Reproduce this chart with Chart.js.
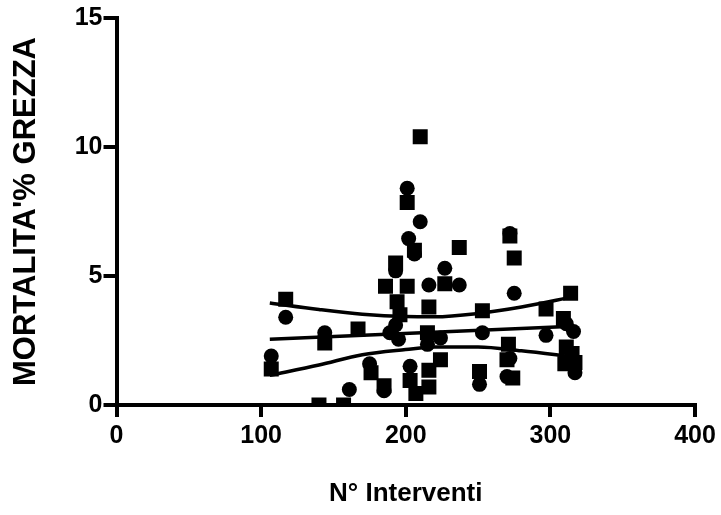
<!DOCTYPE html>
<html>
<head>
<meta charset="utf-8">
<script src="https://cdn.jsdelivr.net/npm/chart.js@4/dist/chart.umd.min.js"></script>
<style>
  html, body { margin: 0; padding: 0; background: #fff; }
  #wrap { width: 721px; height: 515px; }
</style>
</head>
<body>
<div id="wrap"><canvas id="chart" width="721" height="515"></canvas></div>
<script>
// circles
const circleX = [117, 144, 107, 161, 201, 210, 202, 206, 193, 227, 216, 237, 189, 195, 224, 215, 203, 175, 185,
                 272, 275, 311, 316, 253, 297, 272, 316, 317, 251, 270, 193];
const circleY = [3.4, 2.8, 1.9, 0.6, 8.4, 7.1, 6.45, 5.85, 5.2, 5.3, 4.65, 4.65, 2.8, 2.55, 2.6, 2.35, 1.5, 1.6, 0.55,
                 6.65, 4.33, 3.15, 2.85, 2.8, 2.7, 1.8, 1.5, 1.25, 0.8, 1.1, 3.1];

// squares
const squareX = [117, 144, 107, 140, 157, 210, 201, 206, 237, 193, 227, 186, 201, 194, 196, 216, 167, 215, 224,
                 216, 216, 203, 207, 176, 185, 272, 275, 314, 253, 297, 309, 271, 311, 315, 270, 310, 317, 251, 274];
const squareY = [4.1, 2.4, 1.4, 0, 0, 10.4, 7.85, 6.0, 6.1, 5.5, 4.7, 4.6, 4.6, 4.0, 3.5, 3.8, 2.95, 2.8, 1.75,
                 1.35, 0.7, 0.95, 0.45, 1.25, 0.75, 6.55, 5.7, 4.33, 3.65, 3.72, 3.35, 2.35, 2.25, 2.0, 1.75, 1.6, 1.65, 1.3, 1.05];

// regression line and 95% band
const fitX = [106, 316];
const fitY = [2.55, 3.05];
const bandX = [106, 140, 170, 200, 220, 250, 280, 316];
const upperY = [3.95, 3.7, 3.52, 3.43, 3.42, 3.55, 3.8, 4.2];
const lowerY = [1.15, 1.55, 1.95, 2.15, 2.25, 2.25, 2.1, 1.87];

const xTicks = [0, 100, 200, 300, 400];
const yTicks = [0, 5, 10, 15];

const pts = (xs, ys) => xs.map((x, i) => ({ x: x, y: ys[i] }));

const lineStyle = {
    type: 'line',
    borderColor: '#000',
    borderWidth: 3.5,
    pointRadius: 0,
    fill: false,
    cubicInterpolationMode: 'monotone'
};

const font = { family: '"Liberation Sans", Arial, sans-serif', weight: 'bold' };

new Chart(document.getElementById('chart'), {
    type: 'scatter',
    data: {
        datasets: [
            { label: 'circles', data: pts(circleX, circleY), pointStyle: 'circle', pointRadius: 7.5,
              backgroundColor: '#000', borderWidth: 0 },
            { label: 'squares', data: pts(squareX, squareY), pointStyle: 'rect', pointRadius: 10.6,
              backgroundColor: '#000', borderWidth: 0 },
            Object.assign({ label: 'fit', data: pts(fitX, fitY) }, lineStyle),
            Object.assign({ label: 'upper', data: pts(bandX, upperY) }, lineStyle),
            Object.assign({ label: 'lower', data: pts(bandX, lowerY) }, lineStyle)
        ]
    },
    options: {
        responsive: false,
        animation: false,
        layout: { padding: { top: 18, right: 26, left: 0, bottom: 0 } },
        plugins: { legend: { display: false }, tooltip: { enabled: false } },
        scales: {
            x: {
                type: 'linear', min: 0, max: 400,
                afterBuildTicks: s => { s.ticks = xTicks.map(v => ({ value: v })); },
                afterFit: s => { s.height = 110; },
                border: { display: true, width: 4, color: '#000' },
                grid: { drawOnChartArea: false, drawTicks: true, tickLength: 12, lineWidth: 4, color: '#000' },
                ticks: { color: '#000', padding: 4, maxRotation: 0, font: Object.assign({ size: 25 }, font) },
                title: { display: true, text: 'N° Interventi', color: '#000', padding: { top: 4, bottom: 6 },
                         font: Object.assign({ size: 26 }, font) }
            },
            y: {
                type: 'linear', min: 0, max: 15,
                afterBuildTicks: s => { s.ticks = yTicks.map(v => ({ value: v })); },
                afterFit: s => { s.width = 116.5; },
                border: { display: true, width: 4, color: '#000' },
                grid: { drawOnChartArea: false, drawTicks: true, tickLength: 13, lineWidth: 4, color: '#000' },
                ticks: { color: '#000', padding: 1, font: Object.assign({ size: 25 }, font) },
                title: { display: true, text: "MORTALITA'% GREZZA", color: '#000', padding: { top: 8, bottom: 4 },
                         font: Object.assign({ size: 31 }, font) }
            }
        }
    }
});
</script>
</body>
</html>
